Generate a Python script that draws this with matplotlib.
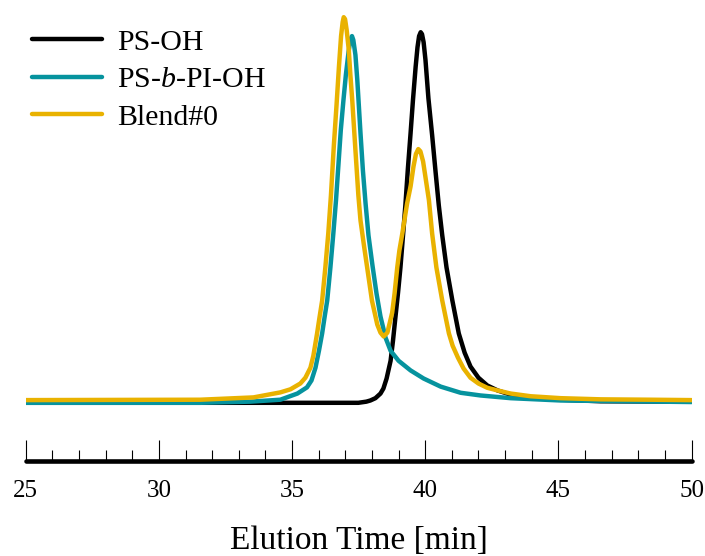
import matplotlib
matplotlib.use("Agg")
import matplotlib.pyplot as plt
from matplotlib.ticker import MultipleLocator

# GPC traces (elution time in min, normalised RI signal)
ps_oh_t = [25.0, 31.55, 37.49, 37.79, 37.94, 38.13, 38.32, 38.43, 38.55, 38.70, 38.79,
           38.88, 38.98, 39.07, 39.17, 39.26, 39.35, 39.45, 39.54, 39.64, 39.71,
           39.77, 39.83, 39.88, 39.94, 40.01, 40.12, 40.26, 40.39, 40.51, 40.64,
           40.80, 41.02, 41.26, 41.48, 41.70, 42.00, 42.33, 42.72, 43.21, 43.96,
           45.09, 46.59, 50.0]
ps_oh_y = [-0.003, -0.003, -0.003, 0.0, 0.003, 0.009, 0.021, 0.034, 0.060, 0.106, 0.158,
           0.218, 0.283, 0.348, 0.434, 0.514, 0.605, 0.696, 0.782, 0.868, 0.919,
           0.948, 0.958, 0.953, 0.932, 0.886, 0.787, 0.691, 0.595, 0.509, 0.431,
           0.348, 0.262, 0.177, 0.127, 0.091, 0.062, 0.042, 0.029, 0.018, 0.010,
           0.005, 0.001, 0.0]

psbpi_t = [25.0, 31.55, 33.43, 34.56, 35.20, 35.56, 35.73, 35.88, 36.01, 36.13, 36.23,
           36.32, 36.44, 36.55, 36.65, 36.74, 36.83, 36.93, 37.02, 37.12, 37.19,
           37.25, 37.30, 37.38, 37.45, 37.57, 37.66, 37.76, 37.87, 38.02, 38.17,
           38.32, 38.51, 38.70, 39.00, 39.45, 39.94, 40.58, 41.33, 42.08, 43.21,
           45.09, 50.0]
psbpi_y = [-0.003, -0.003, 0.0, 0.005, 0.021, 0.037, 0.055, 0.088, 0.132, 0.177, 0.223,
           0.262, 0.348, 0.436, 0.522, 0.613, 0.704, 0.782, 0.847, 0.906, 0.938,
           0.948, 0.938, 0.899, 0.834, 0.696, 0.600, 0.514, 0.431, 0.353, 0.281,
           0.221, 0.166, 0.132, 0.106, 0.081, 0.060, 0.039, 0.023, 0.016, 0.009,
           0.003, -0.001]

blend_t = [25.0, 31.55, 33.55, 34.56, 34.94, 35.31, 35.50, 35.69, 35.80, 35.94, 36.03,
           36.13, 36.25, 36.36, 36.46, 36.57, 36.67, 36.76, 36.84, 36.90, 36.94,
           36.99, 37.05, 37.13, 37.19, 37.26, 37.38, 37.49, 37.57, 37.70, 37.82,
           38.00, 38.20, 38.32, 38.44, 38.58, 38.76, 38.85, 38.95, 39.03, 39.14,
           39.32, 39.45, 39.56, 39.65, 39.74, 39.82, 39.92, 40.01, 40.14, 40.26,
           40.42, 40.64, 40.89, 41.03, 41.23, 41.44, 41.70, 42.00, 42.33, 42.72,
           43.21, 43.96, 45.09, 46.59, 48.47, 50.0]
blend_y = [0.004, 0.005, 0.011, 0.024, 0.032, 0.047, 0.062, 0.088, 0.119, 0.177, 0.218,
           0.262, 0.348, 0.436, 0.535, 0.665, 0.769, 0.868, 0.948, 0.984, 0.997,
           0.992, 0.964, 0.912, 0.847, 0.782, 0.652, 0.535, 0.470, 0.405, 0.348,
           0.262, 0.200, 0.179, 0.169, 0.179, 0.231, 0.281, 0.348, 0.392, 0.436,
           0.514, 0.558, 0.610, 0.642, 0.655, 0.649, 0.623, 0.582, 0.522, 0.436,
           0.348, 0.262, 0.177, 0.145, 0.114, 0.086, 0.062, 0.047, 0.036, 0.029,
           0.021, 0.014, 0.009, 0.006, 0.005, 0.004]

labels = ["PS-OH", r"PS-$b$-PI-OH", "Blend#0"]
colors = ["#000000", "#06939e", "#e9b200"]

plt.rcParams["font.family"] = ["Liberation Serif", "DejaVu Serif"]
plt.rcParams["mathtext.fontset"] = "custom"
plt.rcParams["mathtext.rm"] = "Liberation Serif"
plt.rcParams["mathtext.it"] = "Liberation Serif:italic"

fig = plt.figure(figsize=(7.05, 5.56), dpi=100)
ax = fig.add_axes([0.0365, 0.1715, 0.9444, 0.8285])

for t, y, c, lab in zip([ps_oh_t, psbpi_t, blend_t], [ps_oh_y, psbpi_y, blend_y], colors, labels):
    ax.plot(t, y, color=c, lw=3.2, label=lab, solid_capstyle="round", solid_joinstyle="round")

ax.set_xlim(25, 50)
ax.set_ylim(-0.153, 1.0416)

for s in ["left", "right", "top"]:
    ax.spines[s].set_visible(False)
ax.spines["bottom"].set_linewidth(3.3)
ax.spines["bottom"].set_capstyle("round")
ax.set_yticks([])

ax.xaxis.set_major_locator(MultipleLocator(5))
ax.xaxis.set_minor_locator(MultipleLocator(1))
ax.tick_params(axis="x", which="major", direction="in", length=15, width=0.8, pad=14, labelsize=18)
ax.tick_params(axis="x", which="minor", direction="in", length=8, width=0.8)
ax.set_xlabel("Elution Time [min]", fontsize=24, labelpad=17)

leg = ax.legend(loc="upper left", bbox_to_anchor=(0.046, 0.948), bbox_transform=fig.transFigure,
                frameon=False, fontsize=21.5, handlelength=2.34, handletextpad=0.5,
                labelspacing=0.35, borderpad=0, borderaxespad=0)

fig.savefig("out.png", dpi=100)
